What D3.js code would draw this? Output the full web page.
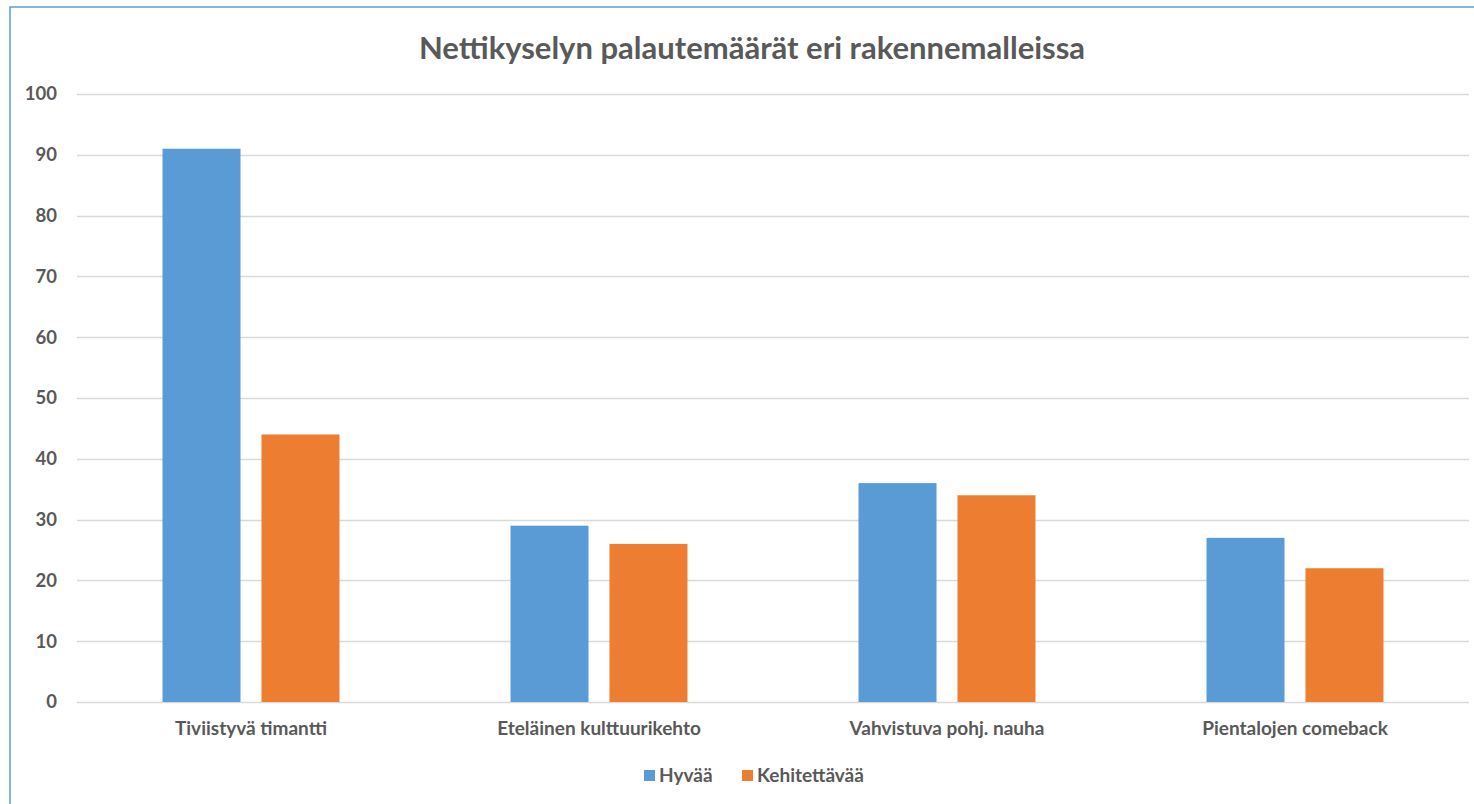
<!DOCTYPE html>
<html>
<head>
<meta charset="utf-8">
<script src="https://cdn.jsdelivr.net/npm/d3@7"></script>
<style>
  body { margin: 0; background: #fff; }
  text { font-family: Lato, "Open Sans", sans-serif; font-weight: bold; fill: #595959; }
  .grid line { stroke: #d9d9d9; stroke-width: 1.3; }
</style>
</head>
<body>
<script>
// data
var categories = ["Tiviistyvä timantti", "Eteläinen kulttuurikehto", "Vahvistuva pohj. nauha", "Pientalojen comeback"];
var hyvaa = [91, 29, 36, 27];
var kehitettavaa = [44, 26, 34, 22];
var seriesNames = ["Hyvää", "Kehitettävää"];
var seriesColors = ["#5b9bd5", "#ed7d31"];
var yTicks = [0, 10, 20, 30, 40, 50, 60, 70, 80, 90, 100];

var canvasWidth = 1474, canvasHeight = 804;
var margin = {top: 94, left: 77, right: 5, bottom: 102};
var plotWidth = canvasWidth - margin.left - margin.right,
    plotHeight = canvasHeight - margin.top - margin.bottom;

var figure = d3.select("body")
  .append("svg")
    .attr("width", canvasWidth)
    .attr("height", canvasHeight);

// chart border
figure.append("rect")
  .attr("x", 10).attr("y", 7)
  .attr("width", canvasWidth).attr("height", canvasHeight)
  .attr("fill", "none")
  .attr("stroke", "#5b9bd5")
  .attr("stroke-width", 1.5);

var x = d3.scaleBand()
  .domain(categories)
  .range([margin.left, margin.left + plotWidth]);

var x1 = d3.scaleBand()
  .domain(seriesNames)
  .range([0, x.bandwidth()])
  .paddingInner(0.212)
  .paddingOuter(0.864);

var y = d3.scaleLinear()
  .domain([0, 100])
  .range([margin.top + plotHeight, margin.top]);

// gridlines
figure.append("g")
  .attr("class", "grid")
  .selectAll("line")
  .data(yTicks)
  .enter()
  .append("line")
    .attr("x1", margin.left)
    .attr("x2", margin.left + plotWidth)
    .attr("y1", function(d) { return Math.round(y(d)) + 0.5; })
    .attr("y2", function(d) { return Math.round(y(d)) + 0.5; });

// y tick labels
figure.append("g")
  .selectAll("text")
  .data(yTicks)
  .enter()
  .append("text")
    .attr("x", 57)
    .attr("y", function(d) { return y(d); })
    .attr("dy", "0.35em")
    .attr("text-anchor", "end")
    .style("font-size", "18.5px")
    .text(function(d) { return d; });

// bars
var rows = categories.map(function(c, i) {
  return {category: c, values: [hyvaa[i], kehitettavaa[i]]};
});

var groups = figure.append("g")
  .selectAll("g")
  .data(rows)
  .enter()
  .append("g")
    .attr("transform", function(d) { return "translate(" + x(d.category) + ",0)"; });

groups.selectAll("rect")
  .data(function(d) { return d.values.map(function(v, j) { return {name: seriesNames[j], value: v, color: seriesColors[j]}; }); })
  .enter()
  .append("rect")
    .attr("x", function(d) { return x1(d.name); })
    .attr("width", x1.bandwidth())
    .attr("y", function(d) { return y(d.value); })
    .attr("height", function(d) { return y(0) - y(d.value); })
    .attr("fill", function(d) { return d.color; });

// category labels
figure.append("g")
  .selectAll("text")
  .data(categories)
  .enter()
  .append("text")
    .attr("x", function(d) { return x(d) + x.bandwidth() / 2; })
    .attr("y", 735)
    .attr("text-anchor", "middle")
    .style("font-size", "19px")
    .text(function(d) { return d; });

// title
figure.append("text")
  .attr("x", 752)
  .attr("y", 59)
  .attr("text-anchor", "middle")
  .style("font-size", "31px")
  .text("Nettikyselyn palautemäärät eri rakennemalleissa");

// legend
var legendX = [644, 742];
var legend = figure.append("g")
  .selectAll("g")
  .data(seriesNames)
  .enter()
  .append("g")
    .attr("transform", function(d, i) { return "translate(" + legendX[i] + ",770)"; });

legend.append("rect")
  .attr("width", 11).attr("height", 11)
  .attr("fill", function(d, i) { return seriesColors[i]; });

legend.append("text")
  .attr("x", 15)
  .attr("y", 5.5)
  .attr("dy", "0.35em")
  .style("font-size", "19px")
  .text(function(d) { return d; });
</script>
</body>
</html>
